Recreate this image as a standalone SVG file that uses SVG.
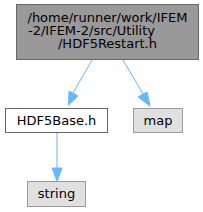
<svg xmlns="http://www.w3.org/2000/svg" width="203" height="212" viewBox="0 0 203 212">
<style>
text{font-family:"DejaVu Sans",sans-serif;font-size:13px;fill:#000;text-anchor:middle}
.e{stroke:#63b8ff;stroke-width:1;fill:none}
.h{fill:#63b8ff;stroke:#63b8ff}
</style>
<rect width="203" height="212" fill="#fff"/>
<g id="connectors">
<path class="e" d="M92,60 L73,93"/>
<polygon class="h" points="68.5,105 69,91 78,96"/>
<path class="e" d="M123,60 L143,94"/>
<polygon class="h" points="150,106 138,97 147,92"/>
<path class="e" d="M57,133 L57,168"/>
<polygon class="h" points="57,181 52,168 62,168"/>
</g>
<g id="node1">
<rect x="16.5" y="4.5" width="182" height="55" fill="#999999" stroke="#666666"/>
<text x="107.5" y="22">/home/runner/work/IFEM</text>
<text x="28" y="35" style="text-anchor:start">-2/IFEM-2/src/Utility</text>
<text x="107.5" y="48">/HDF5Restart.h</text>
</g>
<g id="node2">
<rect x="5.5" y="108.5" width="102" height="24" fill="#ffffff" stroke="#666666"/>
<text x="56.5" y="125">HDF5Base.h</text>
</g>
<g id="node3">
<rect x="133.5" y="108.5" width="49" height="24" fill="#e0e0e0" stroke="#999999"/>
<text x="158" y="125">map</text>
</g>
<g id="node4">
<rect x="27.5" y="181.5" width="58" height="25" fill="#e0e0e0" stroke="#999999"/>
<text x="56.5" y="198">string</text>
</g>
</svg>
